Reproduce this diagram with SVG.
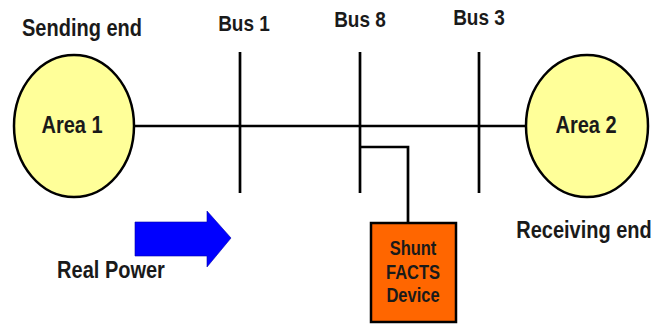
<svg xmlns="http://www.w3.org/2000/svg" width="653" height="325" viewBox="0 0 653 325">
<style>
text{font-family:"Liberation Sans",Arial,sans-serif;font-weight:bold;fill:#1a1a1a;text-anchor:middle}
.ln{stroke:#000;stroke-width:2.7;fill:none}
.area{fill:#FFFF99;stroke:#000;stroke-width:2.5}
</style>
<rect width="653" height="325" fill="#fff"/>
<g id="connectors">
<line class="ln" x1="134" y1="126" x2="526" y2="126"/>
<line class="ln" x1="240" y1="52" x2="240" y2="193"/>
<line class="ln" x1="360" y1="52" x2="360" y2="193"/>
<line class="ln" x1="479" y1="52" x2="479" y2="193"/>
<polyline class="ln" points="360,147 408,147 408,223"/>
</g>
<g id="area1">
<ellipse class="area" cx="74" cy="126" rx="60" ry="71"/>
<text transform="translate(72,133) scale(1,1.2)" font-size="20">Area 1</text>
</g>
<g id="area2">
<ellipse class="area" cx="587" cy="126" rx="61" ry="71"/>
<text transform="translate(586,133) scale(1,1.2)" font-size="20">Area 2</text>
</g>
<g id="labels">
<text transform="translate(82,36) scale(1,1.15)" font-size="20">Sending end</text>
<text transform="translate(244,31) scale(1,1.2)" font-size="19">Bus 1</text>
<text transform="translate(360,27) scale(1,1.2)" font-size="19">Bus 8</text>
<text transform="translate(479,25) scale(1,1.2)" font-size="19">Bus 3</text>
<text transform="translate(584,238) scale(1,1.15)" font-size="20">Receiving end</text>
<text transform="translate(111,278) scale(1,1.2)" font-size="20">Real Power</text>
</g>
<g id="arrow">
<polygon points="135,222 207,222 207,211 231,238 207,267 207,256 135,256" fill="#0000FF" stroke="#0000AA" stroke-width="0.6"/>
</g>
<g id="shunt">
<rect x="371" y="223" width="85" height="99" fill="#FF6600" stroke="#000" stroke-width="2.5"/>
<text transform="translate(413,255) scale(1,1.2)" font-size="16.5">Shunt</text>
<text transform="translate(413,279) scale(1,1.2)" font-size="16.5">FACTS</text>
<text transform="translate(413,302) scale(1,1.2)" font-size="16.5">Device</text>
</g>
</svg>
